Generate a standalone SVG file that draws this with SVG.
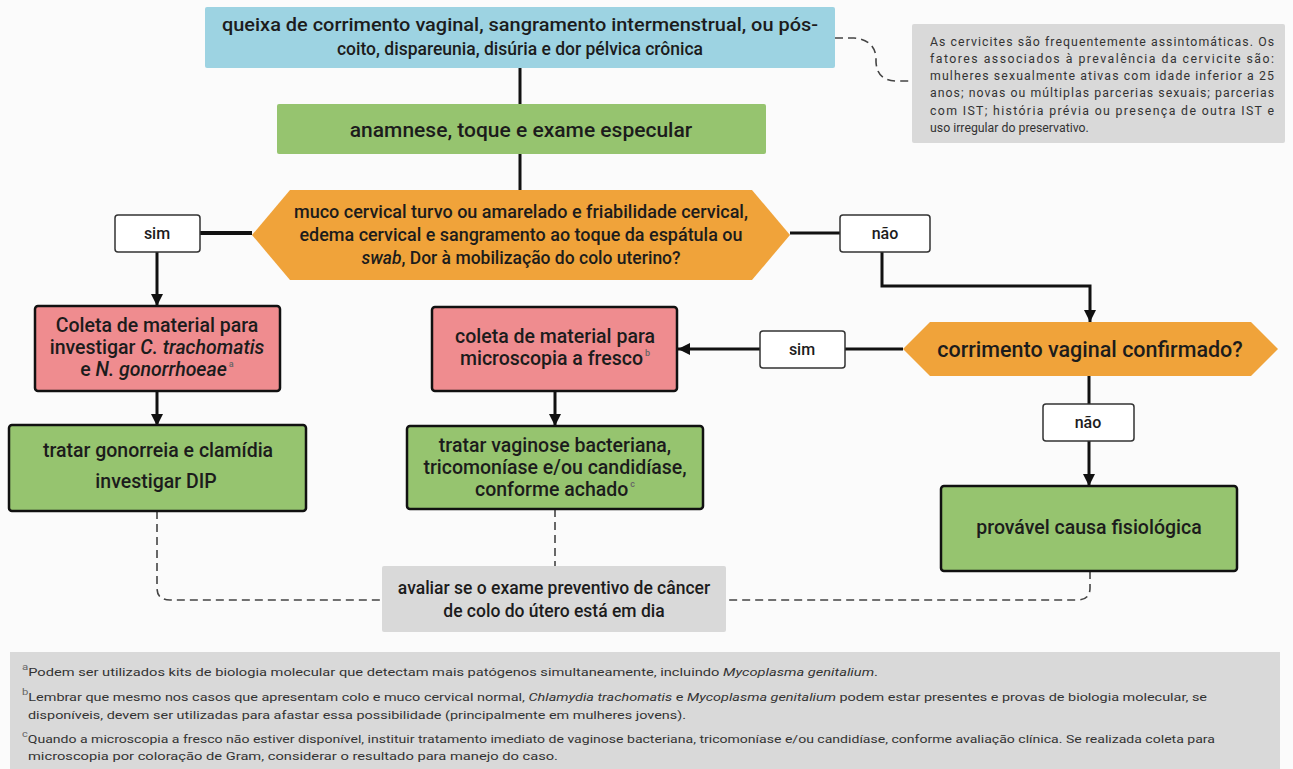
<svg xmlns="http://www.w3.org/2000/svg" width="1293" height="769" viewBox="0 0 1293 769">
<defs>
<marker id="arr" viewBox="0 0 10 10" refX="10" refY="5" markerWidth="4" markerHeight="4" orient="auto" markerUnits="strokeWidth">
<path d="M0,0 L10,5 L0,10 Z" fill="#111"/>
</marker>
<style>
text{font-family:Roboto,"Liberation Sans",sans-serif;fill:#1c1c1c;}
.m{font-size:19.5px;font-weight:500;text-anchor:middle;}
.t{font-size:17.5px;font-weight:500;text-anchor:middle;}
.hx{font-size:17.5px;font-weight:500;text-anchor:middle;}
.lbl{font-size:16px;font-weight:500;text-anchor:middle;}
.note{font-size:12.3px;fill:#333;}
.fn{font-size:11.5px;fill:#333;}
.sup{font-size:9px;fill:#666;}
.ln{stroke:#111;stroke-width:3;fill:none;}
.ds{stroke:#444;stroke-width:1.6;fill:none;stroke-dasharray:8,5;}
.yn{fill:#fff;stroke:#333;stroke-width:1.5;}
.bx{stroke:#111;stroke-width:2.5;}
</style>
</defs>
<rect width="1293" height="769" fill="#fbfbfb"/>

<g id="connectors">
<path class="ln" d="M520,68 V104"/>
<path class="ln" d="M520,154 V190"/>
<path class="ln" d="M200,233 H252" style="stroke-width:4"/>
<path class="ln" d="M157,252 V306" marker-end="url(#arr)"/>
<path class="ln" d="M790,233 H840"/>
<path class="ln" d="M882,252 V286 H1090 V322" marker-end="url(#arr)"/>
<path class="ln" d="M903,349 H845"/>
<path class="ln" d="M760,349 H678" marker-end="url(#arr)"/>
<path class="ln" d="M157,391 V426" marker-end="url(#arr)"/>
<path class="ln" d="M555,391 V426" marker-end="url(#arr)"/>
<path class="ln" d="M1089,376 V404"/>
<path class="ln" d="M1089,441 V486" marker-end="url(#arr)"/>
<path class="ds" d="M835,38 H854 Q875,40 876,58 V62 Q877,81 897,81 H912"/>
<path class="ds" d="M157,511 V588 Q157,600 170,600 H382"/>
<path class="ds" d="M555,509 V566"/>
<path class="ds" d="M1090,571 V588 Q1090,600 1077,600 H726"/>
</g>

<g id="n-queixa">
<rect x="205" y="7" width="630" height="61" rx="2" fill="#9dd3e2"/>
<text class="t" x="520" y="31" textLength="596" lengthAdjust="spacingAndGlyphs">queixa de corrimento vaginal, sangramento intermenstrual, ou pós-</text>
<text class="t" x="520" y="55">coito, dispareunia, disúria e dor pélvica crônica</text>
</g>

<g id="n-nota">
<rect x="912" y="24" width="373" height="119" rx="2" fill="#d9d9d9"/>
<text class="note" x="930" y="46" textLength="344" lengthAdjust="spacing">As cervicites são frequentemente assintomáticas. Os</text>
<text class="note" x="930" y="63" textLength="344" lengthAdjust="spacing">fatores associados à prevalência da cervicite são:</text>
<text class="note" x="930" y="80" textLength="344" lengthAdjust="spacing">mulheres sexualmente ativas com idade inferior a 25</text>
<text class="note" x="930" y="97" textLength="344" lengthAdjust="spacing">anos; novas ou múltiplas parcerias sexuais; parcerias</text>
<text class="note" x="930" y="115" textLength="344" lengthAdjust="spacing">com IST; história prévia ou presença de outra IST e</text>
<text class="note" x="930" y="132">uso irregular do preservativo.</text>
</g>

<g id="n-anamnese">
<rect x="277" y="104" width="489" height="50" rx="2" fill="#96c46f"/>
<text class="m" x="521" y="137" style="font-size:21px">anamnese, toque e exame especular</text>
</g>

<g id="n-muco">
<polygon points="252,235 290,190 752,190 790,235 752,280 290,280" fill="#f0a33a"/>
<text class="hx" x="521" y="218" textLength="454" lengthAdjust="spacingAndGlyphs">muco cervical turvo ou amarelado e friabilidade cervical,</text>
<text class="hx" x="521" y="241" textLength="443" lengthAdjust="spacingAndGlyphs">edema cervical e sangramento ao toque da espátula ou</text>
<text class="hx" x="521" y="264"><tspan font-style="italic">swab</tspan>, Dor à mobilização do colo uterino?</text>
</g>

<g id="n-sim1">
<rect class="yn" x="115" y="215" width="85" height="37" rx="3"/>
<text class="lbl" x="157" y="239">sim</text>
</g>

<g id="n-nao1">
<rect class="yn" x="840" y="215" width="90" height="37" rx="3"/>
<text class="lbl" x="885" y="239">não</text>
</g>

<g id="n-corrimento">
<polygon points="903,349 930,322 1251,322 1278,349 1251,376 930,376" fill="#f0a33a"/>
<text class="m" x="1090" y="357" style="font-size:21.5px">corrimento vaginal confirmado?</text>
</g>

<g id="n-sim2">
<rect class="yn" x="760" y="331" width="85" height="37" rx="3"/>
<text class="lbl" x="802" y="355">sim</text>
</g>

<g id="n-nao2">
<rect class="yn" x="1043" y="404" width="91" height="37" rx="3"/>
<text class="lbl" x="1088" y="428">não</text>
</g>

<g id="n-coleta1">
<rect class="bx" x="35" y="306" width="245" height="85" rx="3" fill="#ef8c8f"/>
<text class="m" x="157" y="332">Coleta de material para</text>
<text class="m" x="157" y="354">investigar <tspan font-style="italic">C. trachomatis</tspan></text>
<text class="m" x="157" y="376">e <tspan font-style="italic">N. gonorrhoeae</tspan><tspan class="sup" dy="-9" dx="2">a</tspan></text>
</g>

<g id="n-coleta2">
<rect class="bx" x="432" y="307" width="245" height="84" rx="3" fill="#ef8c8f"/>
<text class="m" x="555" y="343">coleta de material para</text>
<text class="m" x="555" y="365">microscopia a fresco<tspan class="sup" dy="-9" dx="2">b</tspan></text>
</g>

<g id="n-tratar1">
<rect class="bx" x="9" y="425" width="297" height="86" rx="3" fill="#96c46f"/>
<text class="m" x="158" y="457">tratar gonorreia e clamídia</text>
<text class="m" x="156" y="488">investigar DIP</text>
</g>

<g id="n-tratar2">
<rect class="bx" x="407" y="426" width="296" height="83" rx="3" fill="#96c46f"/>
<text class="m" x="555" y="452">tratar vaginose bacteriana,</text>
<text class="m" x="555" y="474">tricomoníase e/ou candidíase,</text>
<text class="m" x="555" y="496">conforme achado<tspan class="sup" dy="-9" dx="2">c</tspan></text>
</g>

<g id="n-fisiologica">
<rect class="bx" x="941" y="486" width="296" height="85" rx="3" fill="#96c46f"/>
<text class="m" x="1089" y="534">provável causa fisiológica</text>
</g>

<g id="n-avaliar">
<rect x="382" y="566" width="344" height="66" rx="2" fill="#d9d9d9"/>
<text class="m" x="554" y="594" style="font-size:17.5px">avaliar se o exame preventivo de câncer</text>
<text class="m" x="554" y="617" style="font-size:17.5px">de colo do útero está em dia</text>
</g>

<g id="n-notas">
<rect x="10" y="652" width="1270" height="117" fill="#d9d9d9"/>
<text class="fn" x="22" y="676" textLength="856" lengthAdjust="spacingAndGlyphs"><tspan class="sup" dy="-6">a</tspan><tspan dy="6">Podem ser utilizados kits de biologia molecular que detectam mais patógenos simultaneamente, incluindo </tspan><tspan font-style="italic">Mycoplasma genitalium</tspan>.</text>
<text class="fn" x="22" y="701" textLength="1185" lengthAdjust="spacingAndGlyphs"><tspan class="sup" dy="-6">b</tspan><tspan dy="6">Lembrar que mesmo nos casos que apresentam colo e muco cervical normal, </tspan><tspan font-style="italic">Chlamydia trachomatis</tspan> e <tspan font-style="italic">Mycoplasma genitalium</tspan> podem estar presentes e provas de biologia molecular, se</text>
<text class="fn" x="28" y="719" textLength="658" lengthAdjust="spacingAndGlyphs">disponíveis, devem ser utilizadas para afastar essa possibilidade (principalmente em mulheres jovens).</text>
<text class="fn" x="22" y="743" textLength="1193" lengthAdjust="spacingAndGlyphs"><tspan class="sup" dy="-6">c</tspan><tspan dy="6">Quando a microscopia a fresco não estiver disponível, instituir tratamento imediato de vaginose bacteriana, tricomoníase e/ou candidíase, conforme avaliação clínica. Se realizada coleta para</tspan></text>
<text class="fn" x="28" y="760" textLength="530" lengthAdjust="spacingAndGlyphs">microscopia por coloração de Gram, considerar o resultado para manejo do caso.</text>
</g>
</svg>
